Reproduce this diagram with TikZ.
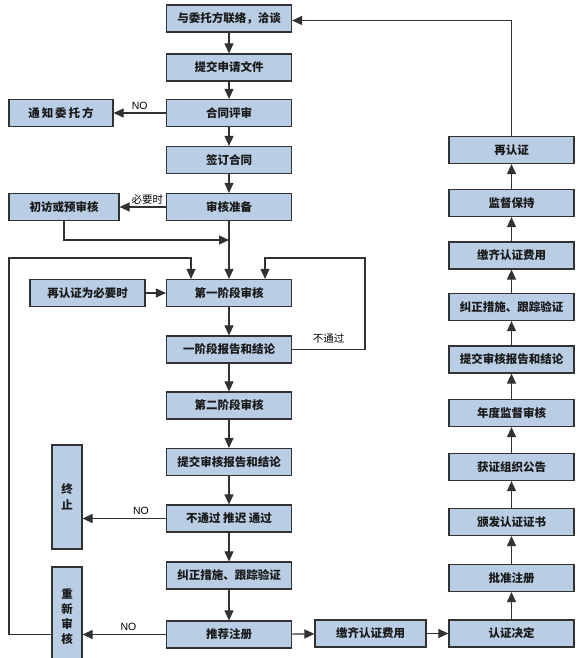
\documentclass[tikz,border=0pt]{standalone}
\usepackage{fontspec}
\setmainfont{Liberation Sans}
\newfontfamily\cjk{Noto Sans CJK SC}
\usetikzlibrary{arrows.meta}
\definecolor{boxblue}{RGB}{185,206,229}
\definecolor{linegray}{RGB}{50,50,50}
\tikzset{
  box/.style={draw=linegray, fill=boxblue, line width=1.2pt, minimum width=125pt,
    minimum height=27pt, inner sep=0pt, text=black!90,
    font=\cjk\bfseries\fontsize{11.5}{13}\selectfont},
  tallbox/.style={box, minimum width=30pt, align=center},
  arr/.style={draw=linegray, line width=1.1pt, -{Triangle[length=10pt,width=9pt]}},
  lbl/.style={font=\fontsize{10.5}{12}\selectfont, inner sep=1pt}
}
\begin{document}
\begin{tikzpicture}[x=1pt,y=-1pt]
\useasboundingbox[fill=white] (0,0) rectangle (586,658);
% main column
\node[box] (n1) at (229,18.5) {与委托方联络，洽谈};
\node[box] (n2) at (229,67.5) {提交申请文件};
\node[box] (n3) at (229,113) {合同评审};
\node[box] (n4) at (229,160) {签订合同};
\node[box] (n5) at (229,207) {审核准备};
\node[box] (s1) at (229,293) {第一阶段审核};
\node[box] (s1r) at (229,349.5) {一阶段报告和结论};
\node[box] (s2) at (229,405.5) {第二阶段审核};
\node[box] (rep) at (229,462) {提交审核报告和结论};
\node[box] (dec) at (229,518.5) {不通过\ 推迟\ 通过};
\node[box] (corr) at (229,575.5) {纠正措施、跟踪验证};
\node[box] (recom) at (229,634.5) {推荐注册};
% left side
\node[box, minimum width=104pt] (notify) at (61,113) {通\,知\,委\,托\,方};
\node[box, minimum width=110pt] (pre) at (64,207) {初访或预审核};
\node[box, minimum width=115pt] (recert) at (87.5,293) {再认证为必要时};
\node[tallbox, minimum height=104pt] (stop) at (67,497) {终\\[3pt]止};
\node[tallbox, minimum height=100pt] (redo) at (67,617) {重\\[2pt]新\\[2pt]审\\[2pt]核};
% bottom middle
\node[box, minimum width=111pt] (fee) at (370.5,633.5) {缴齐认证费用};
% right column
\node[box] (r1) at (511.5,150) {再认证};
\node[box] (r2) at (511.5,203) {监督保持};
\node[box] (r3) at (511.5,255.5) {缴齐认证费用};
\node[box] (r4) at (511.5,307) {纠正措施、跟踪验证};
\node[box] (r5) at (511.5,359.5) {提交审核报告和结论};
\node[box] (r6) at (511.5,413) {年度监督审核};
\node[box] (r7) at (511.5,467) {获证组织公告};
\node[box] (r8) at (511.5,522) {颁发认证证书};
\node[box] (r9) at (511.5,578) {批准注册};
\node[box] (r10) at (511.5,633.5) {认证决定};
\coordinate (join) at (229,240);
\coordinate (loopL) at (9,258);
\coordinate (loopR) at (365,258);
% arrows
\draw[arr] (n1) -- (n2);
\draw[arr] (n2) -- (n3);
\draw[arr] (n3) -- node[lbl, above, pos=0.5, yshift=2pt] {NO} (notify);
\draw[arr] (n3) -- (n4);
\draw[arr] (n4) -- (n5);
\draw[arr] (n5) -- node[lbl, above, pos=0.4, yshift=1pt] {\cjk 必要时} (pre);
\draw[arr] (n5) -- (s1);
\draw[arr] (pre.south) |- (join);
\draw[arr] (recert) -- (s1);
\draw[arr] (redo.west |- recom) -| (loopL) -| ([xshift=-38pt]s1.north);
\draw[arr] (s1r.east) -| node[lbl, above, pos=0.25, yshift=5pt] {\cjk 不通过} (loopR) -| ([xshift=36pt]s1.north);
\draw[arr] (s1) -- (s1r);
\draw[arr] (s1r) -- (s2);
\draw[arr] (s2) -- (rep);
\draw[arr] (rep) -- (dec);
\draw[arr] (dec) -- node[lbl, above, pos=0.3, yshift=2pt] {NO} (stop.east |- dec);
\draw[arr] (dec) -- (corr);
\draw[arr] (corr) -- (recom);
\draw[arr] (recom) -- node[lbl, above, pos=0.45, yshift=2pt] {NO} (redo.east |- recom);
\draw[arr] (recom) -- (fee);
\draw[arr] (fee) -- (r10);
\draw[arr] (r10) -- (r9);
\draw[arr] (r9) -- (r8);
\draw[arr] (r8) -- (r7);
\draw[arr] (r7) -- (r6);
\draw[arr] (r6) -- (r5);
\draw[arr] (r5) -- (r4);
\draw[arr] (r4) -- (r3);
\draw[arr] (r3) -- (r2);
\draw[arr] (r2) -- (r1);
\draw[arr] (r1.north) |- ([yshift=-2pt]n1.east);
\end{tikzpicture}
\end{document}
